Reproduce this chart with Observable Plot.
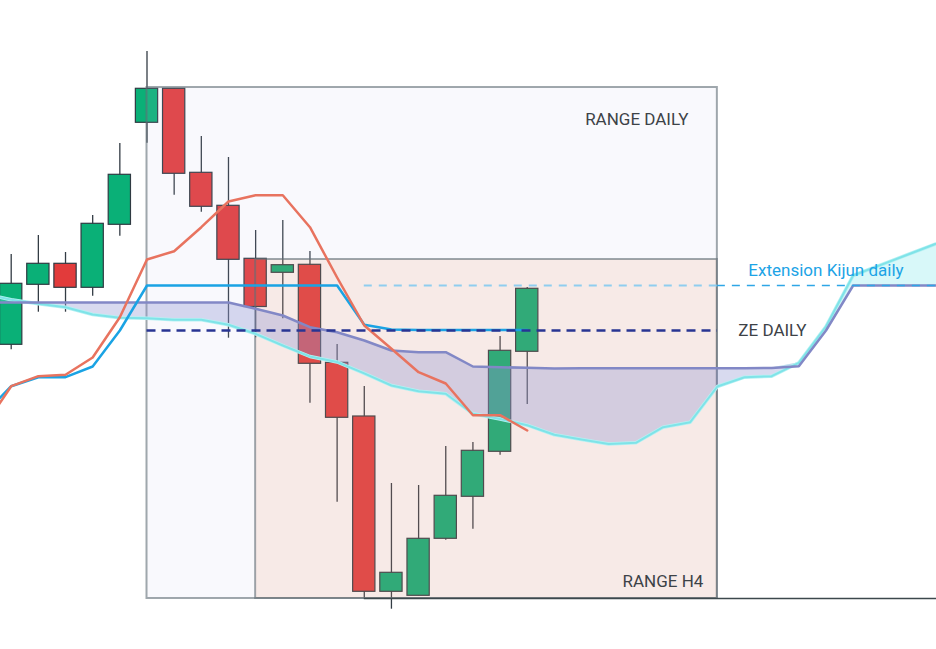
<!DOCTYPE html>
<html>
<head>
<meta charset="utf-8">
<script src="https://cdn.jsdelivr.net/npm/d3@7"></script>
<script src="https://cdn.jsdelivr.net/npm/@observablehq/plot@0.6"></script>
<style>
html, body { margin: 0; padding: 0; background: #fff; overflow: hidden; }
#chart svg { display: block; }
</style>
</head>
<body>
<div id="chart"></div>
<script>
// ---- Candles (index 0..19), price units ----
const candleOpen  = [304.7, 364.7, 385.7, 361.7, 424.7, 526.7, 560.7, 476.7, 443.7, 390.7, 376.7, 384.7, 286.7, 233.0, 57.7, 53.7, 110.7, 152.7, 197.7, 297.7];
const candleHigh  = [395.0, 414.0, 397.0, 434.0, 506.0, 598.0, 560.7, 513.0, 492.0, 419.0, 429.0, 398.0, 305.0, 263.0, 166.0, 164.0, 203.0, 207.0, 313.0, 362.0];
const candleLow   = [299.7, 337.3, 337.3, 353.3, 413.3, 506.3, 454.3, 437.3, 311.3, 311.7, 330.7, 246.3, 147.3, 51.3, 40.3, 53.7, 109.3, 120.3, 194.3, 245.0];
const candleClose = [365.7, 385.7, 361.7, 425.7, 474.7, 560.7, 475.7, 442.7, 389.7, 342.5, 384.3, 285.7, 231.7, 57.7, 76.7, 110.7, 153.7, 198.7, 298.7, 360.7];

// ---- Ichimoku lines (start at index -1) ----
const tenkan = [223, 263.3, 273.3, 274.7, 292, 332.3, 390, 398.3, 422.3, 448, 454.3, 454.3, 422.3, 372, 324, 300.7, 277.3, 266, 234.3, 234.3, 219];
const kijun  = [235.4, 263.3, 272.3, 272.3, 283, 319, 364, 364, 364, 364, 364, 364, 364, 364, 324.7, 320, 319.5, 319.5, 319.5, 319.5, 319.5];
const senkouA = [356, 349.7, 345.7, 342.3, 335, 331.7, 331.3, 329.7, 329.7, 324.7, 315.7, 304, 293, 287.5, 276.2, 264, 258.3, 255.7, 235.7, 230.5, 224.3, 214.7, 210, 205.5, 206.7, 222.3, 227.3, 263, 272.3, 273.3, 286.7, 323, 374, 384.4, 394.8, 405.2, 415.6];
const senkouB = [347, 347, 347, 347, 347, 347, 347, 347, 347, 347, 340.7, 334, 322.3, 317.3, 309, 299, 297.3, 297.3, 283, 282.3, 281.7, 281, 281.3, 281.3, 281.3, 281.3, 281.3, 281.3, 281.3, 281.5, 283.3, 319, 364, 364, 364, 364, 364];
const lineStartIndex = -1;

// ---- Ranges and levels ----
const rangeLabels = ["RANGE DAILY", "RANGE H4"];
const rangeStart  = [5, 9];
const rangeEnd    = [26, 26];
const rangeHigh   = [562, 390];
const rangeLow    = [51, 51];
const zeDailyLevel = 319;
const extensionKijunLevel = 364;
const levelLabels = ["ZE DAILY", "Extension Kijun daily"];

// ---- build tables ----
const candles = candleOpen.map((o, i) => ({i, o, h: candleHigh[i], l: candleLow[i], c: candleClose[i], up: candleClose[i] >= o}));
const tk = tenkan.map((v, k) => ({i: k + lineStartIndex, v}));
const kj = kijun.map((v, k) => ({i: k + lineStartIndex, v}));
const cloud = senkouA.map((a, k) => ({i: k + lineStartIndex, a, b: senkouB[k], top: Math.max(a, senkouB[k])}));
const ranges = rangeLabels.map((label, k) => ({label, start: rangeStart[k], end: rangeEnd[k], high: rangeHigh[k], low: rangeLow[k]}));

const W = 936, H = 649, X0 = 10.7, STEP = 27.16, HALF = 0.41;
const GREEN = "#0ab077", RED = "#e23b3b", EDGE = "#2f3a42";

const chart = Plot.plot({
  width: W, height: H,
  margin: 0,
  style: {fontFamily: "Roboto, sans-serif", overflow: "hidden", background: "#fff"},
  x: {type: "linear", domain: [-X0 / STEP, (W - X0) / STEP], range: [0, W], axis: null},
  y: {type: "linear", domain: [0, H], range: [H, 0], axis: null},
  marks: [
    // wicks
    Plot.ruleX(candles, {x: "i", y1: "l", y2: "h", stroke: "#333c44", strokeWidth: 1.3}),
    // bodies
    Plot.rect(candles, {filter: d => d.up, x1: d => d.i - HALF, x2: d => d.i + HALF, y1: "o", y2: "c", fill: GREEN, stroke: EDGE, strokeWidth: 1.2}),
    Plot.rect(candles, {filter: d => !d.up, x1: d => d.i - HALF, x2: d => d.i + HALF, y1: "o", y2: "c", fill: RED, stroke: EDGE, strokeWidth: 1.2}),
    // range boxes
    Plot.rect(ranges.slice(0, 1), {x1: "start", x2: "end", y1: "low", y2: "high", fill: "#c3c3eb", fillOpacity: 0.1, stroke: "#606e76", strokeOpacity: 0.6, strokeWidth: 2}),
    Plot.rect(ranges.slice(1, 2), {x1: "start", x2: "end", y1: "low", y2: "high", fill: "#f0702a", fillOpacity: 0.1, stroke: "#606e76", strokeOpacity: 0.6, strokeWidth: 2}),
    // cloud
    Plot.areaY(cloud, {x: "i", y1: "a", y2: "top", fill: "#8f94d2", fillOpacity: 0.35}),
    Plot.areaY(cloud, {x: "i", y1: "b", y2: "top", fill: "#7ee8ea", fillOpacity: 0.3}),
    Plot.line(cloud, {x: "i", y: "a", stroke: "#b5f1f3", strokeWidth: 3.5}),
    Plot.line(cloud, {x: "i", y: "a", stroke: "#7fe3e8", strokeWidth: 2}),
    Plot.line(cloud, {x: "i", y: "b", stroke: "#8288c6", strokeWidth: 2.5}),
    // kijun & tenkan
    Plot.line(kj, {x: "i", y: "v", stroke: "#1aa3e4", strokeWidth: 2.5}),
    Plot.line(tk, {x: "i", y: "v", stroke: "#e8735f", strokeWidth: 2.5}),
    // levels
    Plot.ruleY([zeDailyLevel], {y: d => d, x1: rangeStart[0], x2: rangeEnd[0], stroke: "#283593", strokeWidth: 2.5, strokeDasharray: "9,6"}),
    Plot.ruleY([extensionKijunLevel], {y: d => d, x1: 13, x2: rangeEnd[0], stroke: "#8fcdef", strokeWidth: 2, strokeDasharray: "8,7"}),
    Plot.ruleY([extensionKijunLevel], {y: d => d, x1: rangeEnd[0], x2: 35, stroke: "#2ea6e6", strokeWidth: 1.4, strokeDasharray: "8,7"}),
    Plot.ruleY([rangeLow[0]], {y: d => d, x1: 13, x2: 35, stroke: "#3c484d", strokeWidth: 1.3}),
    // labels
    Plot.text(ranges.slice(0, 1), {x: "end", y: "high", text: "label", textAnchor: "end", lineAnchor: "middle", dx: -29, dy: 32, fontSize: 17, fill: "#3d4247"}),
    Plot.text(ranges.slice(1, 2), {x: "end", y: "low", text: "label", textAnchor: "end", lineAnchor: "middle", dx: -14, dy: -16.5, fontSize: 17, fill: "#3d4247"}),
    Plot.text([levelLabels[0]], {x: rangeEnd[0], y: zeDailyLevel, text: d => d, textAnchor: "start", lineAnchor: "middle", dx: 21, fontSize: 17, fill: "#3d4247"}),
    Plot.text([levelLabels[1]], {x: rangeEnd[0], y: extensionKijunLevel, text: d => d, textAnchor: "start", lineAnchor: "middle", dx: 31, dy: -15, fontSize: 17, fill: "#1ca3e6"})
  ]
});
document.getElementById("chart").appendChild(chart);
</script>
</body>
</html>
